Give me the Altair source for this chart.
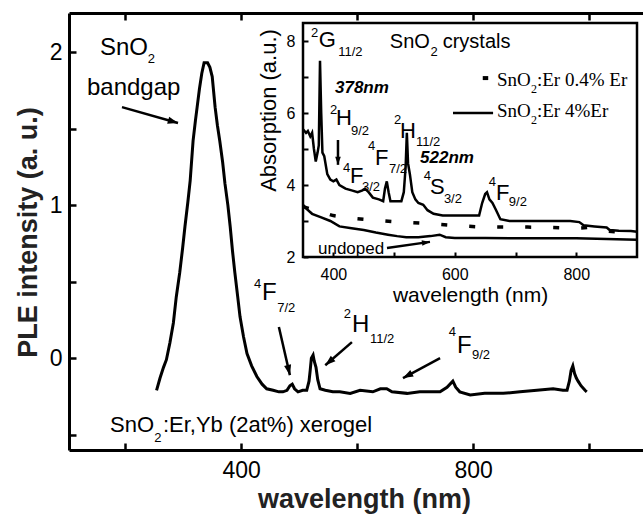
import altair as alt
import pandas as pd

FONT = "Liberation Sans"
SERIF = "Liberation Serif"

# ---------------- data ----------------
# main PLE spectrum (wavelength nm, intensity a.u.)
ple_wl = [254, 260, 266, 271, 277, 283, 288, 294, 299, 303, 308, 312, 317, 321, 324, 328, 332, 336,
          342, 346, 350, 355, 359, 363, 368, 372, 377, 381, 385, 389, 394, 398, 404, 410, 418, 427,
          436, 444, 455, 465, 472, 479, 484, 488, 492, 498, 506, 513, 517, 519, 521, 524, 526, 529,
          532, 536, 545, 558, 570, 588, 605, 627, 640, 651, 660, 686, 708, 731, 743, 755, 765, 770,
          777, 795, 820, 852, 881, 910, 938, 955, 962, 966, 969, 972, 975, 978, 981, 986, 993, 996]
ple_val = [-0.21, -0.13, -0.06, -0.01, 0.10, 0.23, 0.40, 0.56, 0.72, 0.86, 1.02, 1.16, 1.42, 1.55,
           1.64, 1.76, 1.86, 1.93, 1.93, 1.90, 1.84, 1.64, 1.52, 1.42, 1.28, 1.14, 1.00, 0.86, 0.70,
           0.56, 0.40, 0.27, 0.14, 0.03, -0.05, -0.12, -0.17, -0.20, -0.21, -0.22, -0.22, -0.21,
           -0.18, -0.17, -0.20, -0.22, -0.21, -0.21, -0.15, -0.08, 0.00, 0.02, -0.02, -0.06, -0.14,
           -0.20, -0.21, -0.22, -0.22, -0.23, -0.21, -0.22, -0.20, -0.20, -0.22, -0.23, -0.22, -0.22,
           -0.22, -0.19, -0.15, -0.19, -0.22, -0.24, -0.23, -0.23, -0.22, -0.21, -0.20, -0.21, -0.21,
           -0.15, -0.08, -0.05, -0.10, -0.13, -0.15, -0.18, -0.21, -0.22]

# inset: absorption of SnO2 crystals
abs4_wl = [350, 355, 358, 362, 365, 368, 371, 374, 376, 378, 380, 382, 385, 390, 395, 400, 405, 410,
           420, 430, 440, 448, 452, 458, 465, 475, 482, 485, 488, 491, 494, 505, 512, 516, 519, 521,
           523, 526, 530, 535, 540, 548, 555, 565, 580, 600, 620, 640, 645, 650, 653, 657, 662, 668,
           675, 690, 720, 760, 790, 805, 812, 830, 850, 855, 870, 890, 900]
abs4_val = [5.55, 5.45, 5.50, 5.35, 5.45, 5.00, 4.65, 4.90, 5.10, 7.45, 6.00, 4.90, 4.80, 4.30, 4.15,
            4.10, 4.15, 4.00, 3.90, 3.85, 3.80, 3.85, 3.90, 3.80, 3.65, 3.60, 3.55, 3.90, 4.10, 3.80,
            3.55, 3.55, 3.55, 3.80, 4.50, 5.45, 4.60, 4.30, 3.80, 3.60, 3.50, 3.45, 3.30, 3.20, 3.15,
            3.15, 3.15, 3.15, 3.50, 3.75, 3.80, 3.60, 3.50, 3.30, 3.05, 3.00, 3.00, 3.00, 3.00, 2.97,
            2.88, 2.85, 2.82, 2.75, 2.73, 2.72, 2.70]
abs04_wl = [350, 380, 400, 427, 460, 500, 546, 604, 636, 680, 720, 760, 800, 820, 850, 880, 900]
abs04_val = [3.40, 3.25, 3.15, 3.08, 3.03, 2.98, 2.94, 2.87, 2.84, 2.83, 2.83, 2.82, 2.80, 2.82, 2.72,
             2.68, 2.65]
und_wl = [350, 355, 365, 380, 395, 410, 430, 450, 470, 490, 505, 520, 540, 560, 575, 585, 600, 650,
          700, 750, 800, 850, 900]
und_val = [3.45, 3.35, 3.20, 3.10, 3.00, 2.85, 2.80, 2.75, 2.68, 2.62, 2.58, 2.55, 2.55, 2.58, 2.62,
           2.55, 2.53, 2.53, 2.52, 2.52, 2.52, 2.50, 2.48]

# ticks
main_x_ticks = [200, 400, 600, 800, 1000]
main_y_ticks = [-0.5, 0, 0.5, 1, 1.5, 2]
ins_x_ticks = [400, 500, 600, 700, 800]
ins_y_ticks = [2, 3, 4, 5, 6, 7, 8]

# annotations (text, wavelength, value)
main_big = [("SnO", 156.5, 1.98), ("bandgap", 134, 1.72), ("F", 436, 0.379), ("H", 591, 0.17),
            ("F", 772, 0.033)]
main_small = [("2", 239, 1.93), ("4", 422, 0.458), ("7/2", 462, 0.30), ("2", 577, 0.26),
              ("11/2", 622, 0.098), ("4", 758, 0.144), ("9/2", 798, -0.007), ("2", 250, -0.549)]
main_label = [("SnO", 173.7, -0.484), (":Er,Yb (2at%) xerogel", 265, -0.484)]
main_arrows = [(194.4, 1.64, 291, 1.536, 106), (465, 0.203, 484, -0.111, 167),
               (591, 0.105, 545, -0.046, 230), (743, 0.0, 679, -0.13, 242)]

ins_terms = [("G", 376, 7.83), ("H", 404.3, 5.67), ("F", 427.4, 4.06), ("F", 468.6, 4.56),
             ("H", 509.7, 5.31), ("S", 559, 3.75), ("F", 667.8, 3.58)]
ins_small = [("2", 363, 8.11), ("11/2", 408, 7.58), ("2", 394.5, 5.97), ("9/2", 429, 5.39),
             ("4", 415.9, 4.36), ("3/2", 447, 3.83), ("4", 457, 4.97), ("7/2", 491.6, 4.33),
             ("2", 499.8, 5.69), ("11/2", 536, 5.08), ("4", 549, 4.14), ("3/2", 582, 3.5),
             ("4", 656, 3.97), ("9/2", 689, 3.42), ("2", 560, 7.58)]
ins_title = [("SnO", 493, 7.81), ("crystals", 580, 7.81)]
ins_bold = [("378nm", 402.7, 6.56), ("522nm", 542.7, 4.61)]
ins_undoped = [("undoped", 374.7, 2.08)]
ins_leg_text = [("SnO", 669.4, 6.75), (":Er 0.4% Er", 735.3, 6.75),
                ("SnO", 669.4, 5.89), (":Er 4%Er", 735.3, 5.89)]
ins_leg_sub = [("2", 725.4, 6.56), ("2", 725.4, 5.69)]
ins_leg_dash = [(646, 655, 6.97)]
ins_leg_line = [(597, 663, 6.0)]
ins_arrows = [(407.6, 5.25, 407.6, 4.56, 180), (488.3, 2.25, 559.1, 2.42, 82)]

# ---------------- geometry ----------------
W, H = 574, 437
MAIN_X = [103, 1093]
MAIN_Y = [-0.6, 2.255]
INS_X = [350, 900]
INS_Y = [2, 8.5]
INS_XR = [234, 568]
INS_YR = [244, 10]


def mxs():
    return alt.Scale(domain=MAIN_X, nice=False, zero=False)


def mys():
    return alt.Scale(domain=MAIN_Y, nice=False, zero=False)


def ixs():
    return alt.Scale(domain=INS_X, range=INS_XR, nice=False, zero=False)


def iys():
    return alt.Scale(domain=INS_Y, range=INS_YR, nice=False, zero=False)


HEAD = "M0,0L-0.35,1L0.35,1Z"

ple_df = pd.DataFrame({"wl": ple_wl, "v": ple_val})

main_x_axis = alt.Axis(
    orient="bottom", values=main_x_ticks,
    labelExpr="(datum.value == 400 || datum.value == 800) ? format(datum.value, 'd') : ''",
    tickSize={"expr": "-7"}, tickWidth=2.5, tickColor="black",
    domainColor="black", domainWidth=3, grid=False,
    labelFont=FONT, labelFontSize=23, labelColor="black", labelPadding=16,
    labelFlush=False, labelOverlap=False,
    title="wavelength (nm)", titleFont=FONT, titleFontSize=27, titleFontWeight="bold",
    titleColor="#222", titleX=295, titleY=49, titleBaseline="middle", zindex=1)
main_y_axis = alt.Axis(
    orient="left", values=main_y_ticks,
    labelExpr="(datum.value == 0 || datum.value == 1 || datum.value == 2) ? format(datum.value, 'd') : ''",
    tickSize={"expr": "-7"}, tickWidth=2.5, tickColor="black",
    domainColor="black", domainWidth=3, grid=False,
    labelFont=FONT, labelFontSize=23, labelColor="black", labelPadding=14,
    labelFlush=False, labelOverlap=False,
    title="PLE intensity (a. u.)", titleFont=FONT, titleFontSize=27, titleFontWeight="bold",
    titleColor="#222", titleX=-41, titleY=219, titleBaseline="middle", zindex=1)

main = alt.Chart(ple_df).mark_line(color="black", strokeWidth=3).encode(
    x=alt.X("wl:Q", scale=mxs(), axis=main_x_axis),
    y=alt.Y("v:Q", scale=mys(), axis=main_y_axis))

top_axis = alt.Chart(ple_df).mark_line(opacity=0).encode(
    x=alt.X("wl:Q", scale=mxs(), axis=alt.Axis(
        orient="top", values=main_x_ticks, labels=False, title=None, grid=False,
        tickSize={"expr": "-7"}, tickWidth=2.5, tickColor="black",
        domainColor="black", domainWidth=3, zindex=1)),
    y=alt.Y("v:Q", scale=mys(), axis=None))


def text_layer(rows, xs, ys, **kw):
    df = pd.DataFrame(rows, columns=["t", "x", "y"])
    base = dict(align="left", baseline="alphabetic", color="black", font=FONT)
    base.update(kw)
    return alt.Chart(df).mark_text(**base).encode(
        x=alt.X("x:Q", scale=xs, axis=None),
        y=alt.Y("y:Q", scale=ys, axis=None),
        text="t:N")


def arrow_layers(rows, xs, ys, width, size):
    df = pd.DataFrame(rows, columns=["x1", "y1", "x2", "y2", "ang"])
    shaft = alt.Chart(df).mark_rule(color="black", strokeWidth=width).encode(
        x=alt.X("x1:Q", scale=xs, axis=None), y=alt.Y("y1:Q", scale=ys, axis=None),
        x2="x2:Q", y2="y2:Q")
    head = alt.Chart(df).mark_point(shape=HEAD, filled=True, color="black", opacity=1,
                                    size=size, strokeWidth=0).encode(
        x=alt.X("x2:Q", scale=xs, axis=None), y=alt.Y("y2:Q", scale=ys, axis=None),
        angle=alt.Angle("ang:Q", scale=None))
    return [shaft, head]


frame_df = pd.DataFrame({"x": [INS_X[0]], "x2": [INS_X[1]], "y": [INS_Y[0]], "y2": [INS_Y[1]]})
frame = alt.Chart(frame_df).mark_rect(fill="white", stroke="black", strokeWidth=2.5).encode(
    x=alt.X("x:Q", scale=ixs(), axis=None), x2="x2:Q",
    y=alt.Y("y:Q", scale=iys(), axis=None), y2="y2:Q")

ins_x_axis = alt.Axis(
    orient="bottom", offset=-193, values=ins_x_ticks,
    labelExpr="(datum.value == 400 || datum.value == 600 || datum.value == 800) ? format(datum.value, 'd') : ''",
    tickSize={"expr": "-5"}, tickWidth=2, tickColor="black", domain=False, grid=False,
    labelFont=FONT, labelFontSize=16, labelColor="black", labelPadding=14,
    labelFlush=False, labelOverlap=False,
    title="wavelength (nm)", titleFont=FONT, titleFontSize=21, titleFontWeight="normal",
    titleColor="black", titleX=401, titleY=38, titleBaseline="middle", zindex=2)
ins_y_axis = alt.Axis(
    orient="left", offset=-234, values=ins_y_ticks,
    labelExpr="(datum.value % 2 == 0) ? format(datum.value, 'd') : ''",
    tickSize={"expr": "-5"}, tickWidth=2, tickColor="black", domain=False, grid=False,
    labelFont=FONT, labelFontSize=16, labelColor="black", labelPadding=13,
    labelFlush=False, labelOverlap=False,
    title="Absorption (a.u.)", titleFont=FONT, titleFontSize=22, titleFontWeight="normal",
    titleColor="black", titleX=-35, titleY=97, titleBaseline="middle", zindex=2)

abs4 = alt.Chart(pd.DataFrame({"wl": abs4_wl, "v": abs4_val})).mark_line(
    color="black", strokeWidth=2.5).encode(
    x=alt.X("wl:Q", scale=ixs(), axis=ins_x_axis),
    y=alt.Y("v:Q", scale=iys(), axis=ins_y_axis))
abs04 = alt.Chart(pd.DataFrame({"wl": abs04_wl, "v": abs04_val})).mark_line(
    color="black", strokeWidth=3.5, strokeDash=[6, 22]).encode(
    x=alt.X("wl:Q", scale=ixs(), axis=None),
    y=alt.Y("v:Q", scale=iys(), axis=None))
und = alt.Chart(pd.DataFrame({"wl": und_wl, "v": und_val})).mark_line(
    color="black", strokeWidth=2.5).encode(
    x=alt.X("wl:Q", scale=ixs(), axis=None),
    y=alt.Y("v:Q", scale=iys(), axis=None))

leg_dash = alt.Chart(pd.DataFrame(ins_leg_dash, columns=["x1", "x2", "y"])).mark_rule(
    color="black", strokeWidth=4).encode(
    x=alt.X("x1:Q", scale=ixs(), axis=None), x2="x2:Q",
    y=alt.Y("y:Q", scale=iys(), axis=None))
leg_line = alt.Chart(pd.DataFrame(ins_leg_line, columns=["x1", "x2", "y"])).mark_rule(
    color="black", strokeWidth=2.5).encode(
    x=alt.X("x1:Q", scale=ixs(), axis=None), x2="x2:Q",
    y=alt.Y("y:Q", scale=iys(), axis=None))

layers = [
    main, top_axis, frame, und, abs04, abs4, leg_dash, leg_line,
    text_layer(main_big, mxs(), mys(), fontSize=24),
    text_layer(main_small, mxs(), mys(), fontSize=13),
    text_layer(main_label, mxs(), mys(), fontSize=22),
    *arrow_layers(main_arrows, mxs(), mys(), 2.5, 420),
    text_layer(ins_terms, ixs(), iys(), fontSize=22),
    text_layer(ins_small, ixs(), iys(), fontSize=13),
    text_layer(ins_title, ixs(), iys(), fontSize=20),
    text_layer(ins_bold, ixs(), iys(), fontSize=17, fontWeight="bold", fontStyle="italic"),
    text_layer(ins_undoped, ixs(), iys(), fontSize=17),
    text_layer(ins_leg_text, ixs(), iys(), fontSize=19, font=SERIF),
    text_layer(ins_leg_sub, ixs(), iys(), fontSize=12, font=SERIF),
    *arrow_layers(ins_arrows, ixs(), iys(), 2.5, 260),
]

chart = alt.layer(*layers).resolve_scale(x="independent", y="independent").resolve_axis(
    x="independent", y="independent").properties(
    width=W, height=H,
    padding={"left": 69, "top": 13, "right": 0, "bottom": 70},
    autosize=alt.AutoSizeParams(type="none"),
    background="white",
).configure_view(stroke=None)

chart.save("out.html", embed_options={"renderer": "svg", "actions": False})
